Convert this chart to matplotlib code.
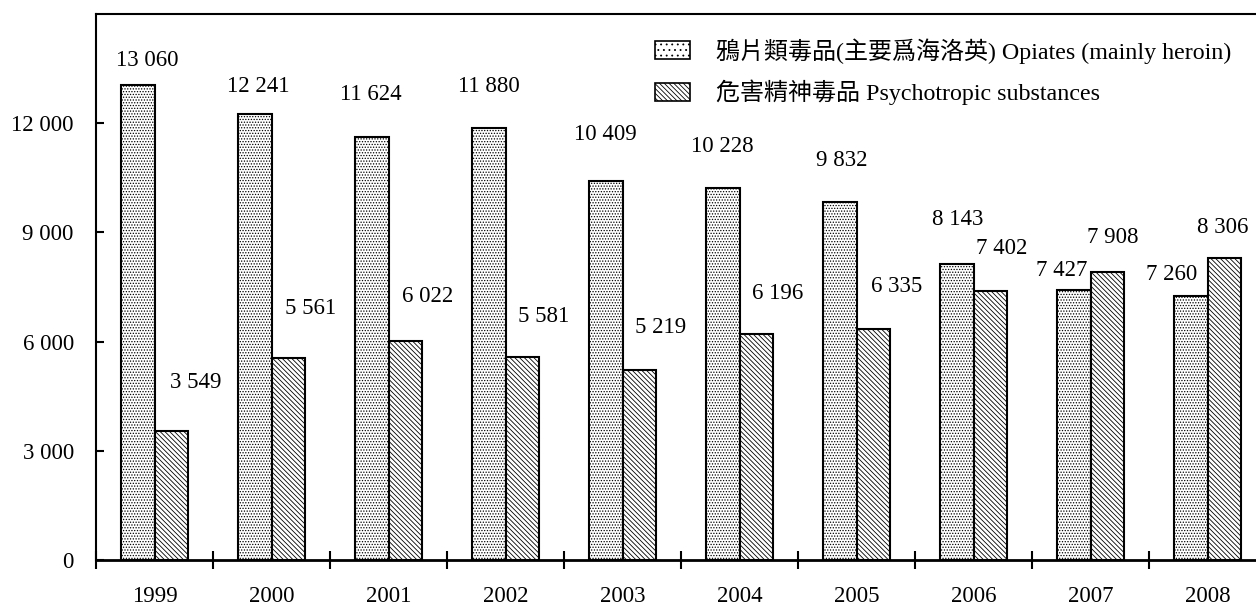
import numpy as np
import matplotlib
matplotlib.use("Agg")
import matplotlib.pyplot as plt
from matplotlib.patches import Patch
from matplotlib.ticker import FixedLocator

plt.rcParams['font.family'] = ['Liberation Serif', 'Noto Sans CJK TC', 'DejaVu Sans']
plt.rcParams['hatch.linewidth'] = 0.6

years = ['1999', '2000', '2001', '2002', '2003', '2004', '2005', '2006', '2007', '2008']
opiates = [13060, 12241, 11624, 11880, 10409, 10228, 9832, 8143, 7427, 7260]
psychotropic = [3549, 5561, 6022, 5581, 5219, 6196, 6335, 7402, 7908, 8306]
yticks = [0, 3000, 6000, 9000, 12000]
ytick_labels = ['0', '3 000', '6 000', '9 000', '12 000']
legend_labels = ['鴉片類毒品(主要爲海洛英) Opiates (mainly heroin)',
                 '危害精神毒品 Psychotropic substances']

# label nudges in pixels (dx, dy above bar top)
opi_dx = [10, 4, -1, 0, 0, 0, 2, 1, -12, -19]
opi_dy = [24, 28, 42, 41, 47, 41, 42, 44, 19, 21]
psy_dx = [24, 22, 22, 21, 21, 21, 23, 11, 5, -2]
psy_dy = [48, 49, 44, 40, 43, 41, 43, 42, 35, 30]

DOTS = '......'
DIAG = '\\' * 7


def fmt(v):
    return f"{v:,}".replace(",", " ")


W, H = 1256, 607
fig = plt.figure(figsize=(W / 100, H / 100), dpi=100)
ax = fig.add_axes([96 / W, 47 / H, 1170 / W, 546 / H])

x = np.arange(len(years))
bw = 0.29
ax.bar(x - bw / 2, opiates, bw, facecolor='white', edgecolor='black',
       linewidth=1.5, hatch=DOTS)
ax.bar(x + bw / 2, psychotropic, bw, facecolor='white', edgecolor='black',
       linewidth=1.5, hatch=DIAG)

px = 0.72  # points per pixel at 100 dpi
for i in range(len(years)):
    ax.annotate(fmt(opiates[i]), (x[i] - bw / 2, opiates[i]),
                xytext=(opi_dx[i] * px, opi_dy[i] * px), textcoords='offset points',
                ha='center', va='center', fontsize=16.5)
    ax.annotate(fmt(psychotropic[i]), (x[i] + bw / 2, psychotropic[i]),
                xytext=(psy_dx[i] * px, psy_dy[i] * px), textcoords='offset points',
                ha='center', va='center', fontsize=16.5)

ax.set_xlim(-0.5, len(years) - 0.5)
ax.set_ylim(0, 15000)

ax.set_yticks(yticks)
ax.set_yticklabels(ytick_labels, fontsize=16.5)
ax.tick_params(axis='y', direction='in', length=6, width=1.5, pad=16)

ax.set_xticks(x)
ax.set_xticklabels(years, fontsize=16.5)
ax.tick_params(axis='x', which='major', length=0, pad=19)
ax.xaxis.set_minor_locator(FixedLocator(np.arange(-0.5, len(years), 1.0)))
ax.tick_params(axis='x', which='minor', direction='inout', length=13, width=1.5)

ax.spines['right'].set_visible(False)
for s in ['left', 'top']:
    ax.spines[s].set_linewidth(1.5)
ax.spines['bottom'].set_linewidth(2)

handles = [Patch(facecolor='white', edgecolor='black', hatch='...', linewidth=1.2),
           Patch(facecolor='white', edgecolor='black', hatch=DIAG, linewidth=1.2)]
ax.legend(handles, legend_labels, loc='upper left', bbox_to_anchor=(655 / W, 1 - 38 / H),
          bbox_transform=fig.transFigure, frameon=False, fontsize=17.3,
          handlelength=1.45, handleheight=0.75, handletextpad=1.1, labelspacing=0.68,
          borderpad=0, borderaxespad=0)

fig.savefig('out.png', dpi=100)
